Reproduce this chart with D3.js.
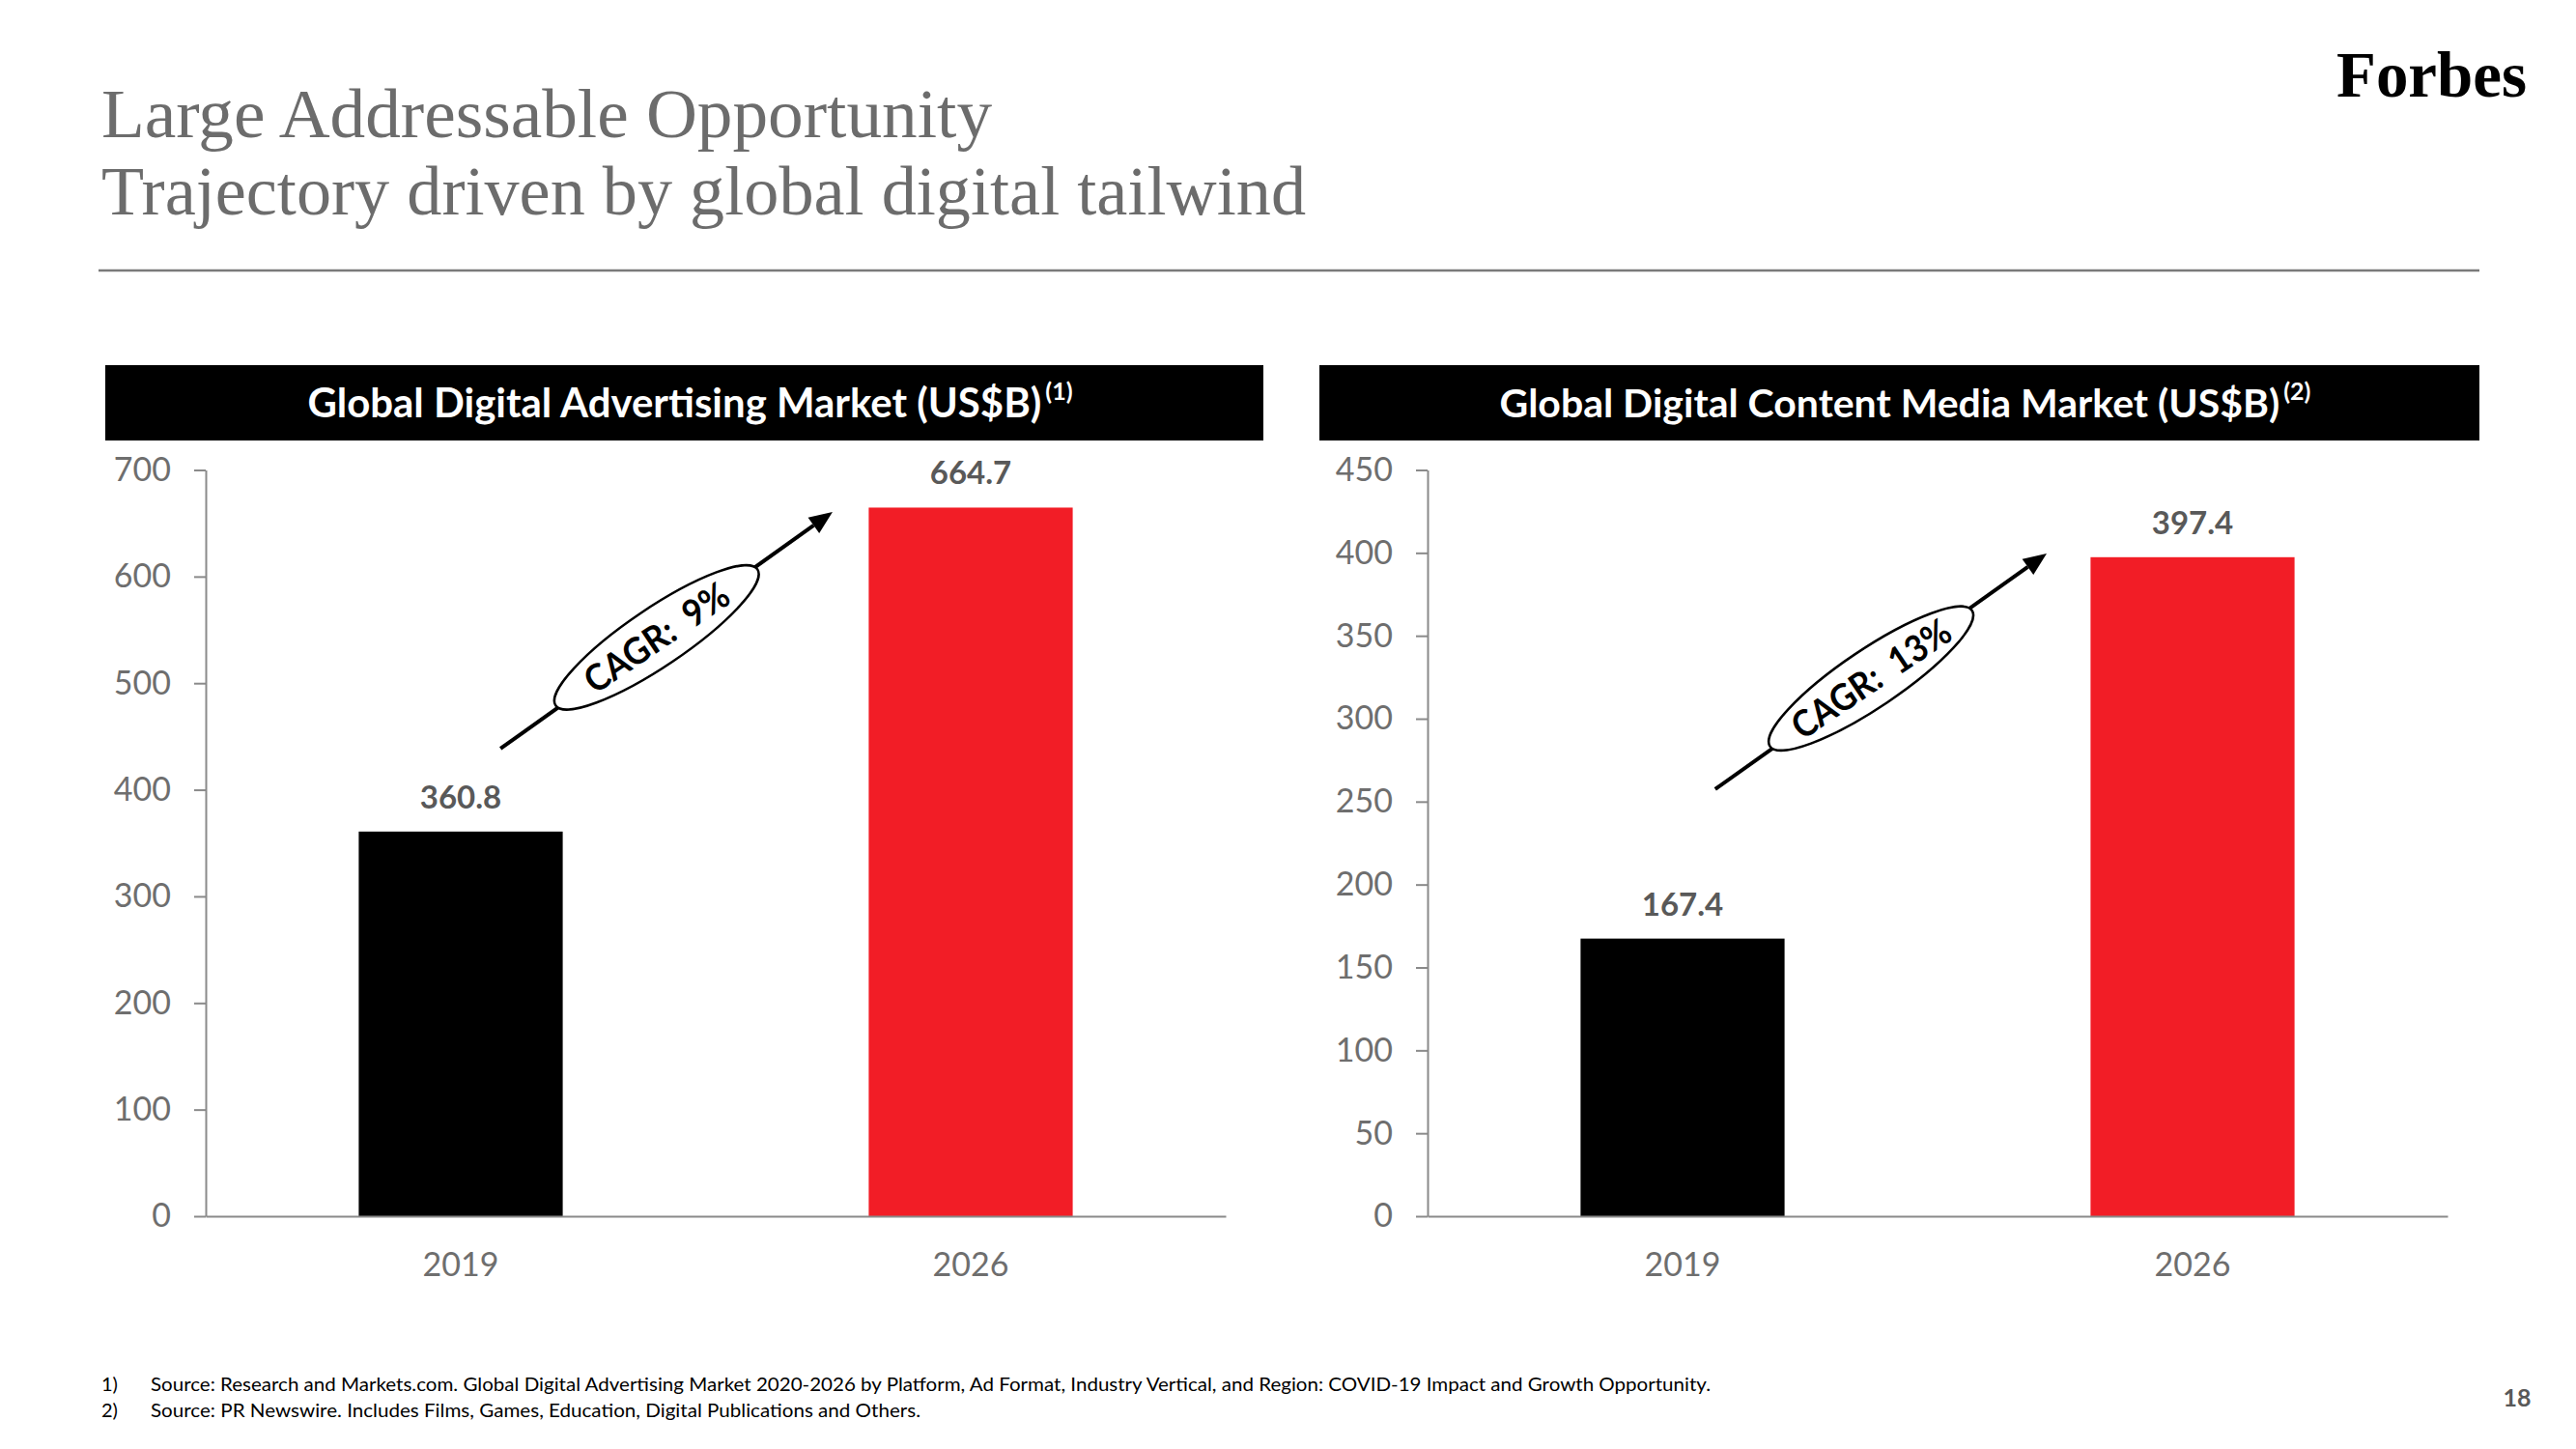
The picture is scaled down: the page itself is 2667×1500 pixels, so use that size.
<!DOCTYPE html>
<html>
<head>
<meta charset="utf-8">
<script src="https://cdnjs.cloudflare.com/ajax/libs/d3/7.8.5/d3.min.js"></script>
<style>
  html, body { margin: 0; padding: 0; background: #ffffff; }
  svg { display: block; }
</style>
</head>
<body>
<svg id="chart" width="2667" height="1500"></svg>
<script>
// ---------------- data ----------------
const categories = ["2019", "2026"];
const adValues = [360.8, 664.7];
const contentValues = [167.4, 397.4];
const adTicks = [0, 100, 200, 300, 400, 500, 600, 700];
const contentTicks = [0, 50, 100, 150, 200, 250, 300, 350, 400, 450];
const chartTitles = ["Global Digital Advertising Market (US$B)", "Global Digital Content Media Market (US$B)"];
const chartNotes = ["(1)", "(2)"];
const cagrLabels = ["CAGR:  9%", "CAGR:  13%"];
const pageTitle = ["Large Addressable Opportunity", "Trajectory driven by global digital tailwind"];
const footnoteNums = ["1)", "2)"];
const footnotes = [
  "Source: Research and Markets.com. Global Digital Advertising Market 2020-2026 by Platform, Ad Format, Industry Vertical, and Region: COVID-19 Impact and Growth Opportunity.",
  "Source: PR Newswire. Includes Films, Games, Education, Digital Publications and Others."
];
const pageNumber = "18";

// ---------------- layout / style ----------------
const svg = d3.select("#chart");
const barColors = ["#000000", "#f21d26"];
const greyText = "#6e6e6e";
const axisGrey = "#8a8a8a";
const labelGrey = "#595959";

const panels = [
  { values: adValues, ticks: adTicks, max: 700, boxX0: 109, boxX1: 1308, axisX: 213, axisX1: 1269,
    titleW: 760, cagrW: 172, arrow: { from: [0, 0.078, 438.6], to: [1, -0.271, 660.6] } },
  { values: contentValues, ticks: contentTicks, max: 450, boxX0: 1366, boxX1: 2567, axisX: 1478, axisX1: 2534,
    titleW: 808, cagrW: 190, arrow: { from: [0, 0.064, 257.5], to: [1, -0.286, 399.6] } }
];
const yTop = 486.5, yBottom = 1259;

// ---------------- page header ----------------
pageTitle.forEach((t, i) => {
  svg.append("text")
    .attr("x", 105).attr("y", 142 + i * 80)
    .attr("font-family", "'Liberation Serif', serif")
    .attr("font-size", 72)
    .attr("fill", "#6c6c6c")
    .attr("textLength", i === 0 ? 922 : 1247)
    .attr("lengthAdjust", "spacingAndGlyphs")
    .text(t);
});
svg.append("line")
  .attr("x1", 102).attr("x2", 2567).attr("y1", 280).attr("y2", 280)
  .attr("stroke", "#7a7a7a").attr("stroke-width", 2.5);

svg.append("text")
  .attr("x", 2419).attr("y", 100)
  .attr("font-family", "'Liberation Serif', serif")
  .attr("font-weight", "bold")
  .attr("font-size", 68)
  .attr("fill", "#000")
  .attr("textLength", 197)
  .attr("lengthAdjust", "spacingAndGlyphs")
  .text("Forbes");

// ---------------- panels ----------------
panels.forEach((p, pi) => {
  const g = svg.append("g");

  // header box
  g.append("rect")
    .attr("x", p.boxX0).attr("y", 378)
    .attr("width", p.boxX1 - p.boxX0).attr("height", 78)
    .attr("fill", "#000");
  const ht = g.append("text")
    .attr("y", 432)
    .attr("font-family", "Lato, sans-serif")
    .attr("font-weight", "bold")
    .attr("font-size", 42)
    .attr("fill", "#fff")
    .text(chartTitles[pi]);
  // fit the font size to the measured reference width
  const natural = ht.node().getComputedTextLength();
  const fs = Math.min(42, 42 * p.titleW / natural);
  ht.attr("font-size", fs);
  const w = ht.node().getComputedTextLength();
  const sup = g.append("text")
    .attr("font-family", "Lato, sans-serif")
    .attr("font-weight", "bold")
    .attr("font-size", 25)
    .attr("fill", "#fff")
    .text(chartNotes[pi]);
  const sw = sup.node().getComputedTextLength();
  const gap = 4;
  const startX = (p.boxX0 + p.boxX1) / 2 - (w + gap + sw) / 2 + 6;
  ht.attr("x", startX);
  sup.attr("x", startX + w + gap).attr("y", 414);

  // scales
  const x = d3.scaleBand().domain(categories).range([p.axisX, p.axisX1])
    .paddingInner(0.6).paddingOuter(0.3);
  const y = d3.scaleLinear().domain([0, p.max]).range([yBottom, yTop]);

  // bars
  g.selectAll("rect.bar").data(p.values).enter().append("rect")
    .attr("class", "bar")
    .attr("x", (d, i) => x(categories[i]))
    .attr("y", d => y(d))
    .attr("width", x.bandwidth())
    .attr("height", d => y(0) - y(d))
    .attr("fill", (d, i) => barColors[i]);

  // value labels
  g.selectAll("text.val").data(p.values).enter().append("text")
    .attr("class", "val")
    .attr("x", (d, i) => x(categories[i]) + x.bandwidth() / 2)
    .attr("y", d => y(d) - 24)
    .attr("text-anchor", "middle")
    .attr("font-family", "Lato, sans-serif")
    .attr("font-weight", "bold")
    .attr("font-size", 33)
    .attr("fill", labelGrey)
    .text(d => d.toFixed(1));

  // y axis
  const yAxis = d3.axisLeft(y).tickValues(p.ticks).tickSize(12).tickSizeOuter(0).tickPadding(24);
  const ya = g.append("g").attr("transform", `translate(${p.axisX},0)`).call(yAxis);
  ya.select(".domain").attr("stroke", axisGrey).attr("stroke-width", 2);
  ya.selectAll(".tick line").attr("stroke", axisGrey).attr("stroke-width", 2);
  ya.selectAll(".tick text")
    .attr("font-family", "Lato, sans-serif")
    .attr("font-size", 34)
    .attr("fill", greyText);

  // x axis
  const xAxis = d3.axisBottom(x).tickSize(0).tickPadding(38);
  const xa = g.append("g").attr("transform", `translate(0,${yBottom})`).call(xAxis);
  xa.select(".domain").attr("stroke", axisGrey).attr("stroke-width", 2);
  xa.selectAll(".tick text")
    .attr("font-family", "Lato, sans-serif")
    .attr("font-size", 34)
    .attr("fill", greyText);

  // CAGR arrow annotation (positioned in data space)
  const pt = a => [x(categories[a[0]]) + x.bandwidth() / 2 + a[1] * x.step(), y(a[2])];
  const [x0, y0] = pt(p.arrow.from);
  const [x1, y1] = pt(p.arrow.to);
  const ang = Math.atan2(y1 - y0, x1 - x0);
  const headL = 24, headW = 10;
  const bx = x1 - headL * Math.cos(ang), by = y1 - headL * Math.sin(ang);
  g.append("line")
    .attr("x1", x0).attr("y1", y0).attr("x2", bx).attr("y2", by)
    .attr("stroke", "#000").attr("stroke-width", 4);
  g.append("path")
    .attr("d", `M${x1},${y1} L${bx + headW * Math.sin(ang)},${by - headW * Math.cos(ang)} L${bx - headW * Math.sin(ang)},${by + headW * Math.cos(ang)} Z`)
    .attr("fill", "#000");
  const t = 0.47;
  const cx = x0 + (x1 - x0) * t, cy = y0 + (y1 - y0) * t;
  const deg = ang * 180 / Math.PI + 1.5;
  const eg = g.append("g").attr("transform", `translate(${cx},${cy}) rotate(${deg})`);
  eg.append("ellipse").attr("rx", 126).attr("ry", 30)
    .attr("fill", "#fff").attr("stroke", "#000").attr("stroke-width", 2.5);
  eg.append("text")
    .attr("text-anchor", "middle").attr("dy", "0.36em")
    .attr("font-family", "Lato, sans-serif")
    .attr("font-weight", "bold")
    .attr("font-size", 38)
    .attr("fill", "#000")
    .attr("textLength", p.cagrW).attr("lengthAdjust", "spacingAndGlyphs")
    .attr("xml:space", "preserve")
    .style("white-space", "pre")
    .text(cagrLabels[pi]);
});

// ---------------- footnotes ----------------
footnotes.forEach((f, i) => {
  svg.append("text")
    .attr("x", 105).attr("y", 1440 + i * 27)
    .attr("font-family", "Lato, sans-serif")
    .attr("font-size", 20)
    .attr("fill", "#000")
    .text(footnoteNums[i]);
  svg.append("text")
    .attr("x", 156).attr("y", 1440 + i * 27)
    .attr("font-family", "Lato, sans-serif")
    .attr("font-size", 20)
    .attr("fill", "#000")
    .attr("textLength", i === 0 ? 1615 : 797)
    .attr("lengthAdjust", "spacingAndGlyphs")
    .text(f);
});
svg.append("text")
  .attr("x", 2606).attr("y", 1456)
  .attr("text-anchor", "middle")
  .attr("font-family", "Lato, sans-serif")
  .attr("font-weight", "bold")
  .attr("font-size", 25)
  .attr("fill", labelGrey)
  .text(pageNumber);
</script>
</body>
</html>
